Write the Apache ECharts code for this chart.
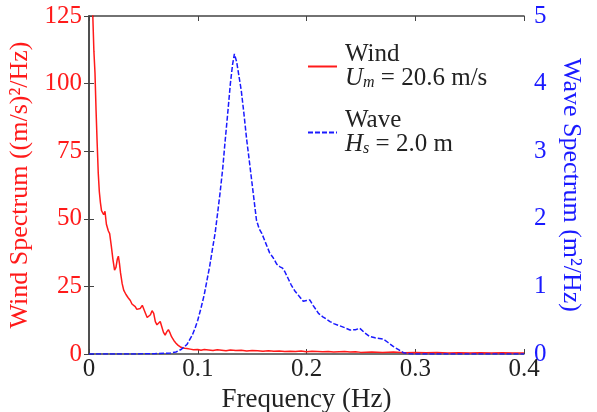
<!DOCTYPE html>
<html>
<head>
<meta charset="utf-8">
<script src="https://cdn.jsdelivr.net/npm/echarts@6/dist/echarts.min.js"></script>
<style>html,body{margin:0;padding:0;background:#fff}#c{width:597px;height:412px}</style>
</head>
<body>
<div id="c"></div>
<script>
// ---- data ----
const xTicks = ['0', '0.1', '0.2', '0.3', '0.4'];
const windTicks = [0, 25, 50, 75, 100, 125];
const waveTicks = [0, 1, 2, 3, 4, 5];

const windFreq = [0.0015,0.0035,0.0045,0.0055,0.0065,0.0075,0.0085,0.0095,0.0105,0.0115,0.0125,0.0135,0.0147,0.016,0.0178,0.019,0.0205,0.022,0.0235,0.0248,0.026,0.027,0.028,0.029,0.0305,0.032,0.034,0.036,0.038,0.0395,0.041,0.0425,0.044,0.0455,0.047,0.049,0.0505,0.052,0.0535,0.055,0.0565,0.058,0.0595,0.061,0.0625,0.064,0.0655,0.067,0.0685,0.07,0.0715,0.073,0.0745,0.076,0.078,0.08,0.082,0.084,0.086,0.088,0.09,0.093,0.096,0.1,0.103,0.106,0.11,0.114,0.118,0.122,0.126,0.13,0.135,0.14,0.145,0.15,0.155,0.16,0.165,0.17,0.175,0.18,0.185,0.19,0.195,0.2,0.205,0.21,0.215,0.22,0.225,0.23,0.235,0.24,0.245,0.25,0.26,0.27,0.28,0.29,0.3,0.31,0.32,0.33,0.34,0.35,0.36,0.37,0.38,0.39,0.4];
const windVal = [160,125,112,104,90,78,67,60,56,53,53.5,51.5,52.8,48,45.5,44.5,40,35,31,32,35,36.2,33.5,30,26,23.5,22,20.8,19.8,18.5,19.2,17.5,16.5,16.3,16.8,18,17.6,15,13.5,13,14.5,16,15,12,10.8,11.5,12,10,8,7,8.2,9,7.8,6.3,5,4,3.2,2.6,2.3,2.1,2.0,1.8,1.6,1.7,1.4,1.7,1.5,1.3,1.6,1.4,1.2,1.5,1.3,1.4,1.1,1.3,1.2,1.0,1.2,1.0,1.1,0.9,1.0,0.9,1.1,0.8,1.0,0.9,0.8,0.9,0.7,0.8,0.9,0.7,0.8,0.6,0.7,0.6,0.7,0.5,0.6,0.5,0.6,0.4,0.5,0.4,0.5,0.4,0.45,0.35,0.4];

const waveFreq = [0,0.02,0.04,0.06,0.07,0.075,0.08,0.085,0.09,0.095,0.0975,0.1,0.103,0.106,0.108,0.111,0.114,0.116,0.118,0.1205,0.123,0.125,0.1275,0.13,0.132,0.1337,0.1358,0.138,0.14,0.1425,0.145,0.148,0.151,0.154,0.1565,0.159,0.1625,0.166,0.1695,0.1726,0.1756,0.178,0.18,0.183,0.186,0.189,0.191,0.194,0.197,0.2,0.203,0.206,0.209,0.211,0.215,0.218,0.2216,0.225,0.23,0.235,0.24,0.245,0.249,0.253,0.258,0.263,0.2706,0.275,0.28,0.285,0.289,0.295,0.3,0.35,0.4];
const waveVal = [0,0,0,0.005,0.01,0.015,0.03,0.07,0.14,0.28,0.38,0.5,0.68,0.88,1.05,1.3,1.6,1.79,2.05,2.38,2.75,3.12,3.55,4.0,4.28,4.44,4.32,4.1,3.9,3.55,3.17,2.78,2.38,1.98,1.85,1.78,1.64,1.5,1.42,1.33,1.29,1.27,1.22,1.12,1.02,0.94,0.9,0.84,0.78,0.79,0.8,0.72,0.65,0.6,0.55,0.52,0.48,0.45,0.42,0.39,0.355,0.36,0.38,0.32,0.26,0.24,0.22,0.17,0.11,0.06,0.02,0.005,0,0,0];

const windColor = '#ff1a1a';
const waveColor = '#1a1aff';
const font = 'Liberation Serif';
const frame = '#444';
const txt = '#222';

const chart = echarts.init(document.getElementById('c'), null, {renderer: 'canvas'});
const zip = (a, b) => a.map((v, i) => [v, b[i]]);

chart.setOption({
  animation: false,
  backgroundColor: '#fff',
  grid: {left: 89, right: 73, top: 16, bottom: 58, containLabel: false, outerBoundsMode: 'none'},
  legend: {
    orient: 'vertical',
    left: 302, top: 37,
    itemWidth: 29, itemHeight: 14, itemGap: 17,
    selectedMode: false,
    itemStyle: {color: 'rgba(0,0,0,0)', borderWidth: 0, opacity: 0},
    data: ['Wind', 'Wave'],
    formatter: function (name) {
      if (name === 'Wind') return '{n|Wind}\n{i|U}{s|m}{r| = 20.6 m/s}';
      return '{n|Wave}\n{i|H}{s|s}{r| = 2.0 m}';
    },
    textStyle: {
      fontFamily: font, fontSize: 25, color: txt,
      rich: {
        n: {fontFamily: font, fontSize: 25, color: txt, lineHeight: 24, padding: [0, 0, 0, 3]},
        r: {fontFamily: font, fontSize: 25, color: txt, lineHeight: 24},
        i: {fontFamily: font, fontSize: 25, fontStyle: 'italic', color: txt, lineHeight: 24, padding: [0, 0, 0, 3]},
        s: {fontFamily: font, fontSize: 16, fontStyle: 'italic', color: txt, lineHeight: 24, verticalAlign: 'bottom'}
      }
    }
  },
  xAxis: [{
    type: 'value', min: 0, max: 0.4, interval: 0.1, position: 'bottom',
    name: 'Frequency (Hz)', nameLocation: 'middle', nameGap: 26,
    nameTextStyle: {fontFamily: font, fontSize: 27, color: txt},
    axisLine: {show: true, lineStyle: {color: frame, width: 1.5}},
    axisTick: {show: true, inside: true, length: 5, lineStyle: {color: frame}},
    axisLabel: {fontFamily: font, fontSize: 25, color: txt, margin: 3,
      formatter: v => xTicks[Math.round(v * 10)]},
    splitLine: {show: false}
  }, {
    type: 'value', min: 0, max: 0.4, interval: 0.1, position: 'top',
    axisLine: {show: true, onZero: false, lineStyle: {color: frame, width: 1.5}},
    axisTick: {show: true, inside: true, length: 5, lineStyle: {color: frame}},
    axisLabel: {show: false}, splitLine: {show: false}
  }],
  yAxis: [{
    type: 'value', min: 0, max: 125, interval: 25, position: 'left',
    name: 'Wind Spectrum ((m/s)\u00b2/Hz)', nameLocation: 'middle', nameGap: 48,
    nameTextStyle: {fontFamily: font, fontSize: 26, color: windColor},
    axisLine: {show: true, lineStyle: {color: frame, width: 1.5}},
    axisTick: {show: true, inside: true, length: 5, lineStyle: {color: frame}},
    axisLabel: {fontFamily: font, fontSize: 25, color: windColor, margin: 7,
      formatter: v => String(windTicks[Math.round(v / 25)])},
    splitLine: {show: false}
  }, {
    type: 'value', min: 0, max: 5, interval: 1, position: 'right',
    name: 'Wave Spectrum (m\u00b2/Hz)', nameLocation: 'middle', nameGap: 26, nameRotate: -90,
    nameTextStyle: {fontFamily: font, fontSize: 26, color: waveColor},
    axisLine: {show: true, lineStyle: {color: frame, width: 1.5}},
    axisTick: {show: true, inside: true, length: 5, lineStyle: {color: frame}},
    axisLabel: {fontFamily: font, fontSize: 25, color: waveColor, margin: 10,
      formatter: v => String(waveTicks[Math.round(v)])},
    splitLine: {show: false}
  }],
  series: [{
    name: 'Wind', type: 'line', xAxisIndex: 0, yAxisIndex: 0,
    data: zip(windFreq, windVal), showSymbol: false, symbol: 'none',
    clip: true,
    lineStyle: {color: windColor, width: 1.5},
    itemStyle: {color: windColor}
  }, {
    name: 'Wave', type: 'line', xAxisIndex: 0, yAxisIndex: 1,
    data: zip(waveFreq, waveVal), showSymbol: false, symbol: 'none',
    clip: true,
    lineStyle: {color: waveColor, width: 1.5, type: [5, 2]},
    itemStyle: {color: waveColor}
  }]
});
</script>
</body>
</html>
